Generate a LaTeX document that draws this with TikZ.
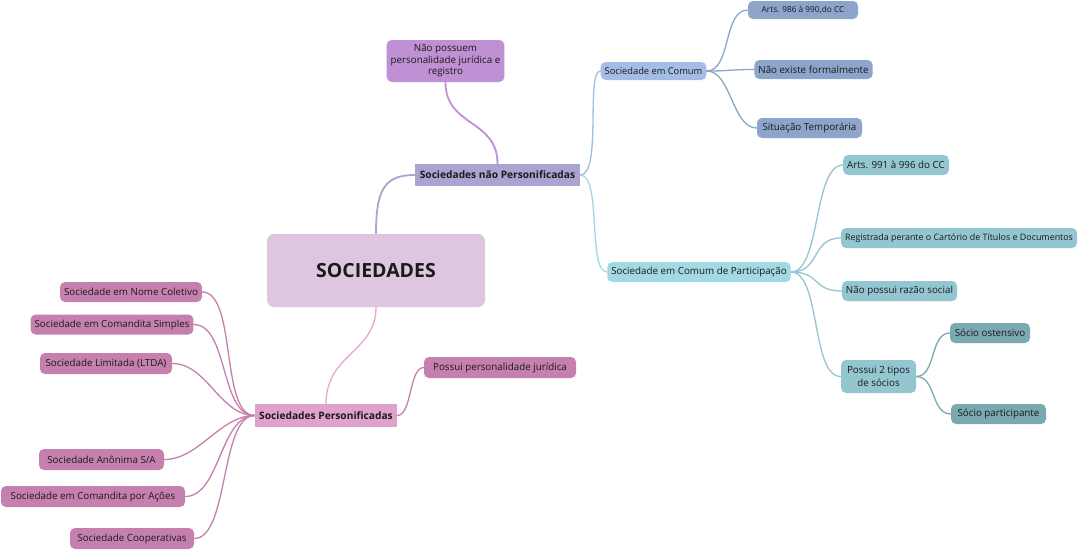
\documentclass[tikz,border=0pt]{standalone}
\usepackage{fontspec}
\setmainfont{Open Sans}
\usetikzlibrary{backgrounds}
\definecolor{croot}{HTML}{DEC5E0}
\definecolor{cnp}{HTML}{ABA3D2}
\definecolor{cnpc}{HTML}{BF90D3}
\definecolor{ccom}{HTML}{A3BDE6}
\definecolor{ccomc}{HTML}{8DA5CB}
\definecolor{cscp}{HTML}{A2D9E3}
\definecolor{cscpc}{HTML}{94C6D1}
\definecolor{csoc}{HTML}{7BA9B1}
\definecolor{cp}{HTML}{E0A1CB}
\definecolor{cpe}{HTML}{E8A8D5}
\definecolor{cpc}{HTML}{C680AF}
\definecolor{txt}{HTML}{1A1A1A}
\tikzset{
  box/.style={rounded corners=5pt, inner xsep=4pt, inner ysep=0pt, minimum height=20pt, text=txt, font=\fontsize{9.8}{11}\selectfont},
  sq/.style={inner xsep=4pt, inner ysep=0pt, minimum height=22pt, text=txt, font=\fontsize{10.2}{12}\selectfont\bfseries},
  edge/.style={line width=1.3pt, line cap=round},
}
\begin{document}
\begin{tikzpicture}[x=1pt,y=-1pt]
\useasboundingbox (0,0) rectangle (1078,550);
% nodes
\node[box, fill=croot, minimum width=218pt, minimum height=73pt, rounded corners=7pt, font=\fontsize{19.5}{22}\selectfont\bfseries] (root) at (376,270.5) {SOCIEDADES};
\node[sq, fill=cnp, minimum width=165pt] (np) at (497.5,175) {Sociedades não Personificadas};
\node[box, fill=cnpc, minimum width=117pt, minimum height=42pt, align=center, font=\fontsize{9.8}{11.5}\selectfont] (npc) at (445.5,61) {Não possuem\\personalidade jurídica e\\registro};
\node[box, fill=ccom, minimum width=105pt, minimum height=18pt, font=\fontsize{9.3}{10}\selectfont] (com) at (653.5,71) {Sociedade em Comum};
\node[box, fill=ccomc, minimum width=110pt, minimum height=18pt, font=\fontsize{8.3}{10}\selectfont] (c1) at (803,10) {Arts. 986 à 990,do CC};
\node[box, fill=ccomc, minimum width=113pt, minimum height=19pt] (c2) at (813.5,69.5) {Não existe formalmente};
\node[box, fill=ccomc, minimum width=105pt, minimum height=20pt] (c3) at (809.5,128) {Situação Temporária};
\node[box, fill=cscp, minimum width=182pt, minimum height=20pt] (scp) at (699,272) {Sociedade em Comum de Participação};
\node[box, fill=cscpc, minimum width=102pt] (s1) at (896,165) {Arts. 991 à 996 do CC};
\node[box, fill=cscpc, minimum width=236pt, minimum height=20pt, font=\fontsize{8.9}{10}\selectfont] (s2) at (959,238) {Registrada perante o Cartório de Títulos e Documentos};
\node[box, fill=cscpc, minimum width=113pt] (s3) at (899.5,291) {Não possui razão social};
\node[box, fill=cscpc, minimum width=75pt, minimum height=33pt, align=center, font=\fontsize{9.8}{13}\selectfont] (s4) at (878.5,376.5) {Possui 2 tipos\\de sócios};
\node[box, fill=csoc, minimum width=80pt] (o1) at (990,333) {Sócio ostensivo};
\node[box, fill=csoc, minimum width=95pt] (o2) at (998.5,414) {Sócio participante};
\node[sq, fill=cp, minimum width=142pt, minimum height=23pt] (p) at (326,415.5) {Sociedades Personificadas};
\node[box, fill=cpc, minimum width=152pt, minimum height=21pt] (pr) at (500,367.5) {Possui personalidade jurídica};
\node[box, fill=cpc, minimum width=140pt] (l1) at (131,292) {Sociedade em Nome Coletivo};
\node[box, fill=cpc, minimum width=162pt] (l2) at (112,324.5) {Sociedade em Comandita Simples};
\node[box, fill=cpc, minimum width=132pt, minimum height=21pt] (l3) at (106,363.5) {Sociedade Limitada (LTDA)};
\node[box, fill=cpc, minimum width=125pt, minimum height=21pt] (l4) at (101.5,459.5) {Sociedade Anônima S/A};
\node[box, fill=cpc, minimum width=184pt, minimum height=21pt] (l5) at (93,496.5) {Sociedade em Comandita por Ações};
\node[box, fill=cpc, minimum width=124pt, minimum height=21pt] (l6) at (132,538.5) {Sociedade Cooperativas};
% connectors
\begin{scope}[on background layer]
\fill[white] (0,0) rectangle (1078,550);
\draw[edge, cnp, line width=1.8pt] (root.north) .. controls +(0,-45) and +(-30,0) .. (np.west);
\draw[edge, cpe] (root.south) .. controls +(0,45) and +(0,-50) .. (p.north);
\draw[edge, cnpc, line width=1.8pt] (np.north) .. controls +(0,-45) and +(0,45) .. (npc.south);
\draw[edge, ccom] (np.east) .. controls +(22,0) and +(-15,0) .. (com.west);
\draw[edge, cscp] (np.east) .. controls +(22,0) and +(-20,0) .. (scp.west);
\foreach \c in {c1,c2,c3}
  \draw[edge, ccomc] (com.east) .. controls +(25,0) and +(-25,0) .. (\c.west);
\foreach \c in {s1,s2,s3,s4}
  \draw[edge, cscpc] (scp.east) .. controls +(30,0) and +(-30,0) .. (\c.west);
\foreach \c in {o1,o2}
  \draw[edge, csoc] (s4.east) .. controls +(20,0) and +(-20,0) .. (\c.west);
\draw[edge, cpc] (p.east) .. controls +(15,0) and +(-15,0) .. (pr.west);
\foreach \c in {l1,l2,l3,l4,l5,l6}
  \draw[edge, cpc] (p.west) .. controls +(-35,0) and +(35,0) .. (\c.east);
\end{scope}
\end{tikzpicture}
\end{document}
